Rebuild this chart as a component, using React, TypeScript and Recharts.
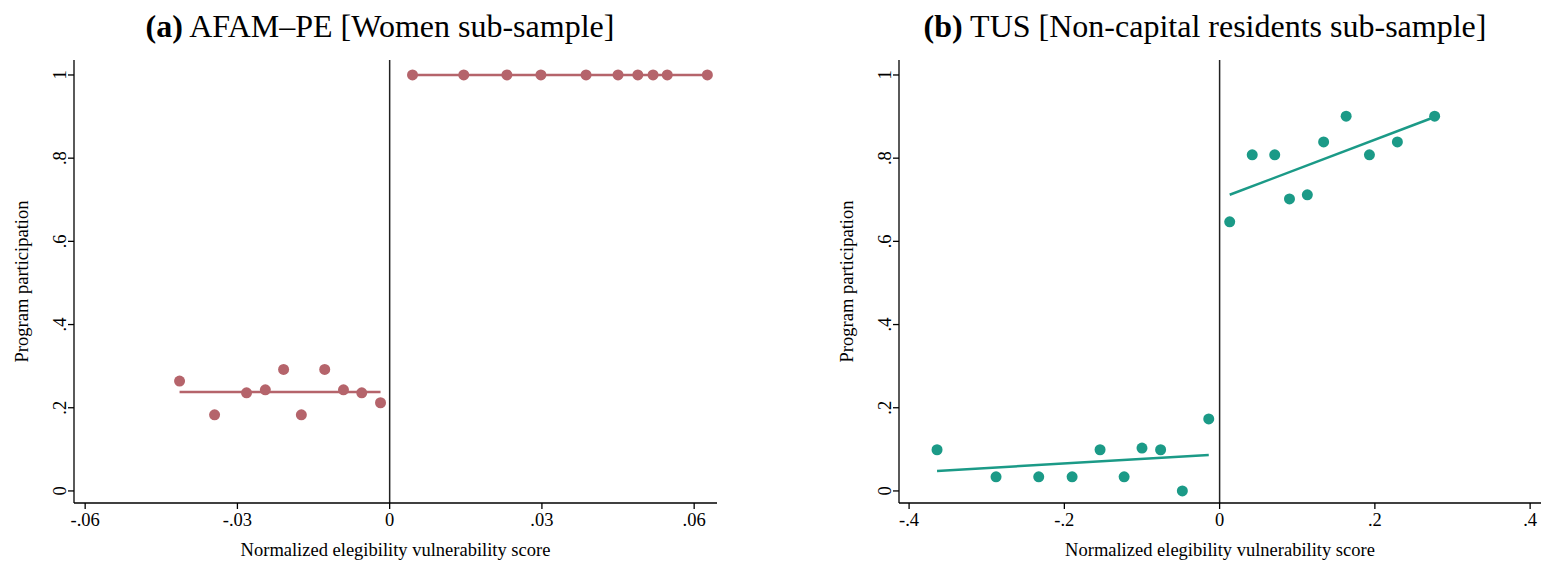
import React from "react";
import {
  ComposedChart,
  Scatter,
  Line,
  XAxis,
  YAxis,
  ReferenceLine,
  Label,
} from "recharts";

// panel (a) AFAM-PE, women
const aLeftX = [-0.0414, -0.0345, -0.0282, -0.0245, -0.0209, -0.0174, -0.0128, -0.0091, -0.0055, -0.0018];
const aLeftY = [0.264, 0.183, 0.236, 0.243, 0.292, 0.183, 0.292, 0.243, 0.236, 0.212];
const aRightX = [0.0045, 0.0146, 0.0231, 0.0298, 0.0387, 0.045, 0.0489, 0.0519, 0.0547, 0.0626];
const aRightY = [1, 1, 1, 1, 1, 1, 1, 1, 1, 1];
const aFitLeftX = [-0.0414, -0.0018];
const aFitLeftY = [0.238, 0.238];
const aFitRightX = [0.0045, 0.0626];
const aFitRightY = [1, 1];

// panel (b) TUS, non-capital residents
const bLeftX = [-0.364, -0.288, -0.233, -0.19, -0.154, -0.123, -0.1, -0.076, -0.048, -0.014];
const bLeftY = [0.099, 0.034, 0.034, 0.034, 0.099, 0.034, 0.103, 0.099, 0, 0.173];
const bRightX = [0.013, 0.042, 0.071, 0.09, 0.113, 0.134, 0.163, 0.193, 0.229, 0.277];
const bRightY = [0.647, 0.808, 0.808, 0.702, 0.712, 0.839, 0.901, 0.808, 0.839, 0.901];
const bFitLeftX = [-0.364, -0.014];
const bFitLeftY = [0.048, 0.0865];
const bFitRightX = [0.013, 0.277];
const bFitRightY = [0.712, 0.899];

const aTicks = [-0.06, -0.03, 0, 0.03, 0.06];
const bTicks = [-0.4, -0.2, 0, 0.2, 0.4];
const yTicks = [0, 0.2, 0.4, 0.6, 0.8, 1];

const FONT = "'Liberation Serif', 'Times New Roman', serif";
const FS = 18.5;

const zip = (xs: number[], ys: number[]) => xs.map((x, i) => ({ x, y: ys[i] }));

// stata style labels: .2, -.03 etc.
const fmt = (v: number) => {
  if (v === 0) return "0";
  const s = String(Math.round(v * 1000) / 1000);
  return s.replace(/^(-?)0\./, "$1.");
};

const XTick = (props: any) => {
  const { x, y, payload } = props;
  return (
    <text x={x} y={y} dy="0.71em" textAnchor="middle" fontSize={FS} fontFamily={FONT} fill="#000">
      {fmt(payload.value)}
    </text>
  );
};

const YTick = (props: any) => {
  const { x, y, payload } = props;
  return (
    <text
      x={x}
      y={y}
      transform={`rotate(-90, ${x}, ${y})`}
      textAnchor="middle"
      fontSize={FS}
      fontFamily={FONT}
      fill="#000"
    >
      {fmt(payload.value)}
    </text>
  );
};

interface PanelProps {
  title: string;
  tag: string;
  color: string;
  left: number;
  width: number;
  marginLeft: number;
  marginRight: number;
  xDomain: [number, number];
  xTicks: number[];
  pointsL: { x: number; y: number }[];
  pointsR: { x: number; y: number }[];
  fitL: { x: number; y: number }[];
  fitR: { x: number; y: number }[];
  titleCenter: number;
}

const Panel = (p: PanelProps) => (
  <div style={{ position: "absolute", left: p.left, top: 0, width: p.width, height: 563 }}>
    <div
      style={{
        position: "absolute",
        left: p.titleCenter - 350,
        width: 700,
        top: 6,
        textAlign: "center",
        fontFamily: FONT,
        fontSize: 32,
        lineHeight: "40px",
        whiteSpace: "nowrap",
      }}
    >
      <b>{p.tag}</b> {p.title}
    </div>
    <ComposedChart
      width={p.width}
      height={563}
      margin={{ top: 60, right: p.marginRight, bottom: 0, left: p.marginLeft }}
    >
      <XAxis
        type="number"
        dataKey="x"
        domain={p.xDomain}
        ticks={p.xTicks}
        allowDataOverflow
        height={60}
        tick={<XTick />}
        tickSize={6}
        tickMargin={4}
        stroke="#000"
        strokeWidth={1.3}
      >
        <Label
          content={(lp: any) => {
            const vb = lp.viewBox;
            return (
              <text
                x={vb.x + vb.width / 2}
                y={vb.y + 53}
                textAnchor="middle"
                fontSize={FS}
                fontFamily={FONT}
                fill="#000"
              >
                Normalized elegibility vulnerability score
              </text>
            );
          }}
        />
      </XAxis>
      <YAxis
        type="number"
        dataKey="y"
        domain={[-0.029, 1.036]}
        ticks={yTicks}
        allowDataOverflow
        width={54}
        tick={<YTick />}
        tickSize={6}
        tickMargin={2}
        stroke="#000"
        strokeWidth={1.3}
      >
        <Label
          content={(lp: any) => {
            const vb = lp.viewBox;
            const cx = vb.x + 8;
            const cy = vb.y + vb.height / 2;
            return (
              <text
                x={cx}
                y={cy}
                transform={`rotate(-90, ${cx}, ${cy})`}
                textAnchor="middle"
                fontSize={FS}
                fontFamily={FONT}
                fill="#000"
              >
                Program participation
              </text>
            );
          }}
        />
      </YAxis>
      <ReferenceLine x={0} stroke="#222" strokeWidth={1.5} />
      <Line
        data={p.fitL}
        dataKey="y"
        type="linear"
        stroke={p.color}
        strokeWidth={2.5}
        dot={false}
        activeDot={false}
        isAnimationActive={false}
      />
      <Line
        data={p.fitR}
        dataKey="y"
        type="linear"
        stroke={p.color}
        strokeWidth={2.5}
        dot={false}
        activeDot={false}
        isAnimationActive={false}
      />
      <Scatter
        data={p.pointsL}
        fill={p.color}
        isAnimationActive={false}
        shape={(sp: any) => <circle cx={sp.cx} cy={sp.cy} r={5.5} fill={p.color} />}
      />
      <Scatter
        data={p.pointsR}
        fill={p.color}
        isAnimationActive={false}
        shape={(sp: any) => <circle cx={sp.cx} cy={sp.cy} r={5.5} fill={p.color} />}
      />
    </ComposedChart>
  </div>
);

export default function App() {
  return (
    <div style={{ position: "absolute", left: 0, top: 0, width: 1543, height: 563, background: "#fff" }}>
      <Panel
        tag="(a)"
        title="AFAM–PE [Women sub-sample]"
        color="#b5646b"
        left={0}
        width={771}
        marginLeft={20}
        marginRight={54}
        xDomain={[-0.0622, 0.0645]}
        xTicks={aTicks}
        pointsL={zip(aLeftX, aLeftY)}
        pointsR={zip(aRightX, aRightY)}
        fitL={zip(aFitLeftX, aFitLeftY)}
        fitR={zip(aFitRightX, aFitRightY)}
        titleCenter={380}
      />
      <Panel
        tag="(b)"
        title="TUS [Non-capital residents sub-sample]"
        color="#1b9a87"
        left={771}
        width={772}
        marginLeft={74}
        marginRight={2}
        xDomain={[-0.413, 0.414]}
        xTicks={bTicks}
        pointsL={zip(bLeftX, bLeftY)}
        pointsR={zip(bRightX, bRightY)}
        fitL={zip(bFitLeftX, bFitLeftY)}
        fitR={zip(bFitRightX, bFitRightY)}
        titleCenter={1205 - 771}
      />
    </div>
  );
}
